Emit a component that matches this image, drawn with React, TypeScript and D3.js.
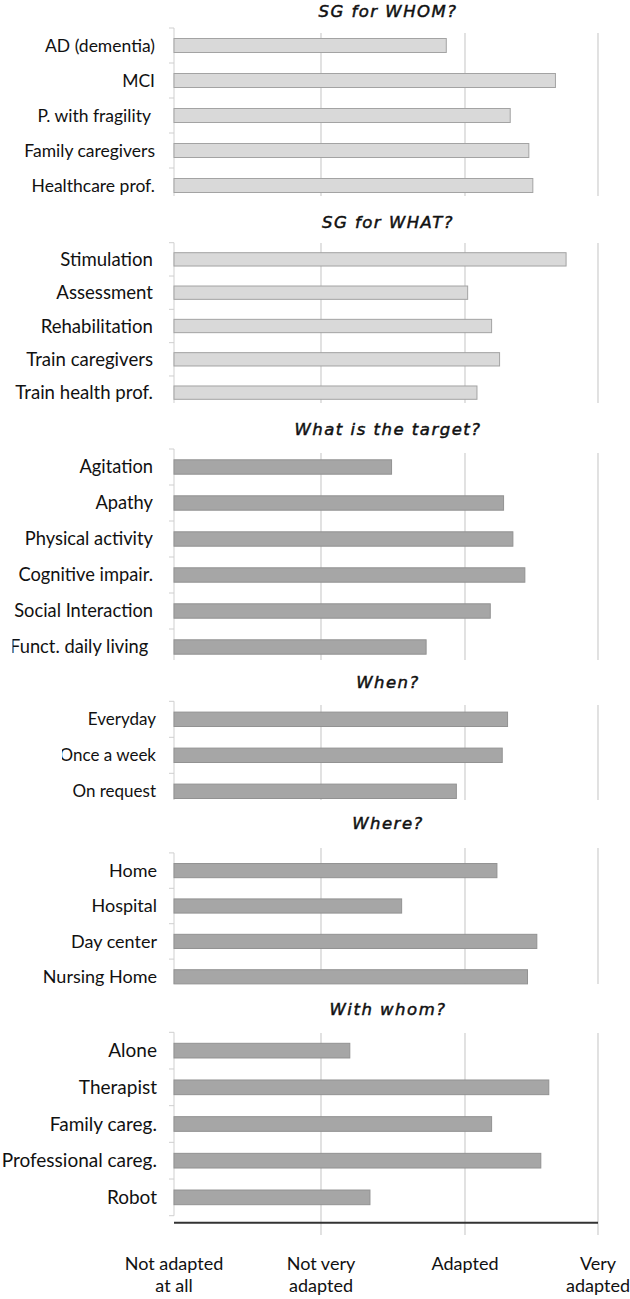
import * as d3 from 'd3';

// scale stops shared by every panel (1 = not adapted at all ... 4 = very adapted)
const scaleStops = [1, 2, 3, 4];
const tickLabels = [['Not adapted', 'at all'], ['Not very', 'adapted'], ['Adapted'], ['Very', 'adapted']];

const whomCats = ['AD (dementia)', 'MCI', 'P. with fragility ', 'Family caregivers', 'Healthcare prof.'];
const whomVals = [2.87, 3.68, 3.34, 3.48, 3.51];

const whatCats = ['Stimulation', 'Assessment', 'Rehabilitation', 'Train caregivers', 'Train health prof.'];
const whatVals = [3.76, 3.02, 3.2, 3.26, 3.09];

const targetCats = ['Agitation', 'Apathy', 'Physical activity', 'Cognitive impair.', 'Social Interaction', 'Funct. daily living '];
const targetVals = [2.49, 3.29, 3.36, 3.45, 3.19, 2.73];

const whenCats = ['Everyday', 'Once a week', 'On request'];
const whenVals = [3.32, 3.28, 2.94];

const whereCats = ['Home', 'Hospital', 'Day center', 'Nursing Home'];
const whereVals = [3.24, 2.56, 3.54, 3.47];

const withCats = ['Alone', 'Therapist', 'Family careg.', 'Professional careg.', 'Robot'];
const withVals = [2.2, 3.63, 3.2, 3.57, 2.34];

const W = 630;
const H = 1299;
const x = d3.scaleLinear().domain(scaleStops).range([174, 321, 465, 598]);

const panels = [
  { title: 'SG for WHOM?', cats: whomCats, vals: whomVals, titleY: 11, band: [28, 203], grid: [33, 196], fs: 17.5, lx: 155, light: true, clipX: 0 },
  { title: 'SG for WHAT?', cats: whatCats, vals: whatVals, titleY: 222, band: [242.7, 409.3], grid: [243, 403], fs: 18.6, lx: 153, light: true, clipX: 0 },
  { title: 'What is the target?', cats: targetCats, vals: targetVals, titleY: 429, band: [449, 665], grid: [453, 660], fs: 18.3, lx: 153, light: false, clipX: 12.5 },
  { title: 'When?', cats: whenCats, vals: whenVals, titleY: 682, band: [701.3, 809.3], grid: [705, 800], fs: 17, lx: 156, light: false, clipX: 62 },
  { title: 'Where?', cats: whereCats, vals: whereVals, titleY: 823, band: [852.9, 994.5], grid: [848, 984], fs: 18, lx: 157, light: false, clipX: 0 },
  { title: 'With whom?', cats: withCats, vals: withVals, titleY: 1009, band: [1032.3, 1215.7], grid: [1033, 1235], fs: 19, lx: 157, light: false, clipX: 0 },
];

const labelFont = 'Lato, "Open Sans", sans-serif';
const titleFont = '"DejaVu Sans", sans-serif';

function Panel({ p, i }: { p: (typeof panels)[number]; i: number }) {
  const y = d3.scaleBand<string>().domain(p.cats).range(p.band as [number, number]).paddingInner(0.6).paddingOuter(0.3);
  const step = y.step();
  const boundaries = p.cats.map((c) => (y(c) as number) - step * 0.3).concat([p.band[1]]);
  const axisBottom = Math.min(p.band[1], p.grid[1]);
  const fill = p.light ? '#d9d9d9' : '#a6a6a6';
  const stroke = p.light ? '#a3a3a3' : '#929292';
  return (
    <g>
      <defs>
        <clipPath id={`clip${i}`}>
          <rect x={p.clipX} y={p.band[0] - 10} width={W} height={p.band[1] - p.band[0] + 20} />
        </clipPath>
      </defs>
      <text
        x={(x(1) + x(4)) / 2 + 2}
        y={p.titleY}
        dy="0.36em"
        textAnchor="middle"
        fontFamily={titleFont}
        fontStyle="italic"
        fontSize={16.5}
        letterSpacing={1.5}
        fill="#111"
        stroke="#111"
        strokeWidth={0.5}
      >
        {p.title}
      </text>
      {scaleStops.slice(1).map((s) => (
        <line key={s} x1={x(s)} x2={x(s)} y1={p.grid[0]} y2={p.grid[1]} stroke="#d2d2d2" strokeWidth={1.3} />
      ))}
      <line x1={x(1)} x2={x(1)} y1={p.band[0]} y2={axisBottom} stroke="#cfcfcf" strokeWidth={1} />
      {boundaries.filter((b) => b <= axisBottom + 0.5).map((b, k) => (
        <line key={k} x1={x(1) - 5} x2={x(1)} y1={b} y2={b} stroke="#cfcfcf" strokeWidth={1} />
      ))}
      {p.cats.map((c, k) => (
        <rect
          key={c}
          x={x(1)}
          y={y(c)}
          width={x(p.vals[k]) - x(1)}
          height={y.bandwidth()}
          fill={fill}
          stroke={stroke}
          strokeWidth={1}
        />
      ))}
      <g clipPath={`url(#clip${i})`}>
        {p.cats.map((c) => (
          <text
            key={c}
            x={p.lx}
            y={(y(c) as number) + y.bandwidth() / 2}
            dy="0.35em"
            textAnchor="end"
            fontFamily={labelFont}
            fontSize={p.fs}
            fill="#111"
            style={{ whiteSpace: 'pre' }}
          >
            {c}
          </text>
        ))}
      </g>
    </g>
  );
}

export default function App() {
  const axisY = 1222.7;
  return (
    <svg width={W} height={H} style={{ position: 'absolute', left: 0, top: 0, background: '#fff' }}>
      {panels.map((p, i) => (
        <Panel key={p.title} p={p} i={i} />
      ))}
      <line x1={x(1)} x2={x(4)} y1={axisY} y2={axisY} stroke="#333" strokeWidth={2} />
      {scaleStops.map((s, k) => (
        <text key={s} x={x(s)} y={1270} textAnchor="middle" fontFamily={labelFont} fontSize={18} fill="#111">
          {tickLabels[k].map((line, j) => (
            <tspan key={j} x={x(s)} dy={j === 0 ? 0 : 22}>
              {line}
            </tspan>
          ))}
        </text>
      ))}
    </svg>
  );
}
